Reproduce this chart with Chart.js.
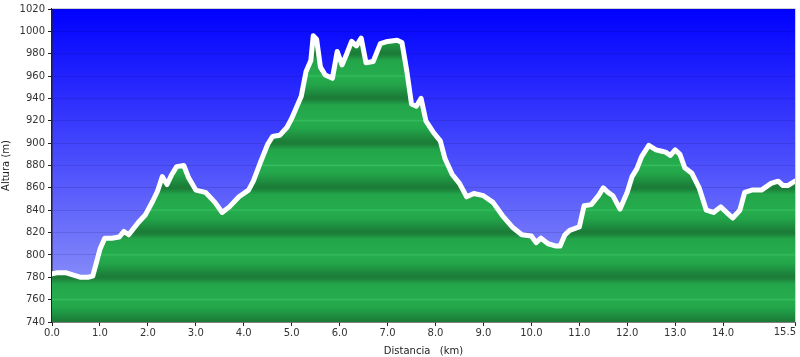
<!DOCTYPE html>
<html><head><meta charset="utf-8">
<script src="https://cdn.jsdelivr.net/npm/chart.js@4/dist/chart.umd.min.js"></script>
<style>html,body{margin:0;padding:0;background:#fff}#wrap{width:800px;height:357px}</style>
</head><body><div id="wrap"><canvas id="c" width="800" height="357"></canvas></div>
<script>
const distanceKm = [0.0,0.1,0.2,0.3,0.45,0.6,0.75,0.85,0.95,1.0,1.1,1.25,1.4,1.5,1.6,1.8,1.95,2.1,2.2,2.3,2.4,2.5,2.6,2.75,2.85,3.0,3.2,3.4,3.55,3.7,3.9,4.1,4.2,4.35,4.5,4.6,4.75,4.9,5.0,5.2,5.3,5.4,5.45,5.52,5.6,5.7,5.85,5.95,6.05,6.15,6.25,6.35,6.45,6.55,6.7,6.85,7.0,7.2,7.3,7.4,7.5,7.6,7.7,7.8,7.95,8.1,8.2,8.35,8.5,8.65,8.8,9.0,9.2,9.4,9.6,9.8,10.0,10.1,10.2,10.35,10.5,10.6,10.7,10.8,11.0,11.1,11.25,11.4,11.5,11.6,11.7,11.85,12.0,12.1,12.2,12.3,12.45,12.6,12.7,12.8,12.9,13.0,13.1,13.2,13.35,13.5,13.65,13.8,13.95,14.1,14.2,14.35,14.45,14.6,14.8,15.0,15.15,15.25,15.35,15.5];
const elevationM = [783,784,784,784,782,780,780,781,797,805,815,815,816,821,818,829,836,848,857,870,863,872,879,880,869,858,856,847,838,843,852,858,866,883,899,906,907,914,922,942,964,974,996,993,968,961,958,982,970,980,991,987,994,972,973,989,991,992,990,965,935,933,940,920,910,902,886,872,864,852,855,853,847,835,825,818,817,811,815,810,808,808,818,822,825,844,845,853,860,856,853,841,856,870,877,888,898,894,893,892,889,894,890,878,873,860,840,838,843,837,833,840,856,858,858,864,866,862,862,866];
const xTickValues = [0,1,2,3,4,5,6,7,8,9,10,11,12,13,14,15.5];
const yMin = 740, yMax = 1020, yStep = 20;
const xMax = 15.5;

const points = distanceKm.map((d,i)=>({x:d,y:elevationM[i]}));

const bgPlugin = {
  id:'bg',
  beforeDraw(chart){
    const {ctx, chartArea:a} = chart;
    const g = ctx.createLinearGradient(0,a.top,0,a.bottom);
    g.addColorStop(0,'#0000ff');
    g.addColorStop(1,'#9aa0f8');
    ctx.save();
    ctx.fillStyle = g;
    ctx.fillRect(a.left,a.top,a.right-a.left,a.bottom-a.top);
    ctx.restore();
  },
  afterDraw(chart){
    const {ctx, chartArea:a} = chart;
    ctx.save();
    ctx.strokeStyle = '#d0d0d0';
    ctx.lineWidth = 1;
    ctx.beginPath();
    ctx.moveTo(a.left, a.top-0.5);
    ctx.lineTo(a.right+0.5, a.top-0.5);
    ctx.lineTo(a.right+0.5, a.bottom);
    ctx.stroke();
    // last x tick label, right-aligned at its tick
    const xs = chart.scales.x;
    ctx.fillStyle = '#333';
    ctx.font = '10px "DejaVu Sans"';
    ctx.textAlign = 'right';
    ctx.textBaseline = 'top';
    ctx.fillText(xMax.toFixed(1), xs.getPixelForValue(xMax)+1, xs.top+5);
    ctx.restore();
  }
};

function bandFill(context){
  const chart = context.chart;
  const a = chart.chartArea;
  if(!a) return '#22a84a';
  const ys = chart.scales.y;
  const g = chart.ctx.createLinearGradient(0,a.top,0,a.bottom);
  const total = a.bottom - a.top;
  const stops = [];
  for(let v=yMax+yStep; v>yMin; v-=2*yStep){
    const pL = (ys.getPixelForValue(v)-a.top)/total;
    const pD = (ys.getPixelForValue(v-yStep)-a.top)/total;
    const pN = (ys.getPixelForValue(v-2*yStep)-a.top)/total;
    const px = 1/total;
    stops.push([pL,'#35bd5c']);
    stops.push([pL+1.2*px,'#25ac4d']);
    stops.push([pL+(pD-pL)*0.35,'#23a64a']);
    stops.push([pD-1*px,'#1b7c38']);
    stops.push([pD+1*px,'#1c7f39']);
    stops.push([pD+(pN-pD)*0.3,'#23a54a']);
    stops.push([pN-1.5*px,'#25ac4d']);
  }
  stops.forEach(([p,c])=>{ if(p>=0 && p<=1) g.addColorStop(p,c); });
  return g;
}

new Chart(document.getElementById('c'),{
  type:'line',
  data:{datasets:[{
    data:points,
    borderColor:'#ffffff',
    borderWidth:5,
    borderJoinStyle:'round',
    borderCapStyle:'round',
    pointRadius:0,
    tension:0,
    fill:'start',
    backgroundColor:bandFill
  }]},
  options:{
    responsive:false,
    animation:false,
    layout:{padding:{top:-3,right:5,left:0,bottom:0}},
    plugins:{legend:{display:false},tooltip:{enabled:false}},
    scales:{
      x:{
        type:'linear',min:0,max:xMax,
        afterBuildTicks(s){ s.ticks = xTickValues.map(v=>({value:v})); },
        afterFit(s){ s.height = 35; s.paddingRight = 0; s.paddingLeft = 0; },
        ticks:{autoSkip:false,maxRotation:0,color:'#333',font:{family:'DejaVu Sans',size:10},padding:1,
          callback:v=>(v===xMax ? '' : Number(v).toFixed(1))},
        grid:{display:true,drawOnChartArea:false,drawTicks:true,tickLength:4,color:'#222'},
        border:{display:true,color:'#222',width:1.5},
        title:{display:true,text:'Distancia   (km)',color:'#222',font:{family:'DejaVu Sans',size:10},padding:{top:2,bottom:0}}
      },
      y:{
        min:yMin,max:yMax,
        afterFit(s){ s.width = 52; },
        ticks:{stepSize:yStep,color:'#333',font:{family:'DejaVu Sans',size:10},padding:3,
          callback:v=>String(v)},
        grid:{display:true,color:'rgba(0,0,60,0.12)',tickColor:'#222',tickLength:4,drawTicks:true},
        border:{display:true,color:'#222',width:1.5},
        title:{display:true,text:'Altura (m)',color:'#222',font:{family:'DejaVu Sans',size:10},padding:{top:0,bottom:2}}
      }
    }
  },
  plugins:[bgPlugin]
});
</script>
</body></html>
